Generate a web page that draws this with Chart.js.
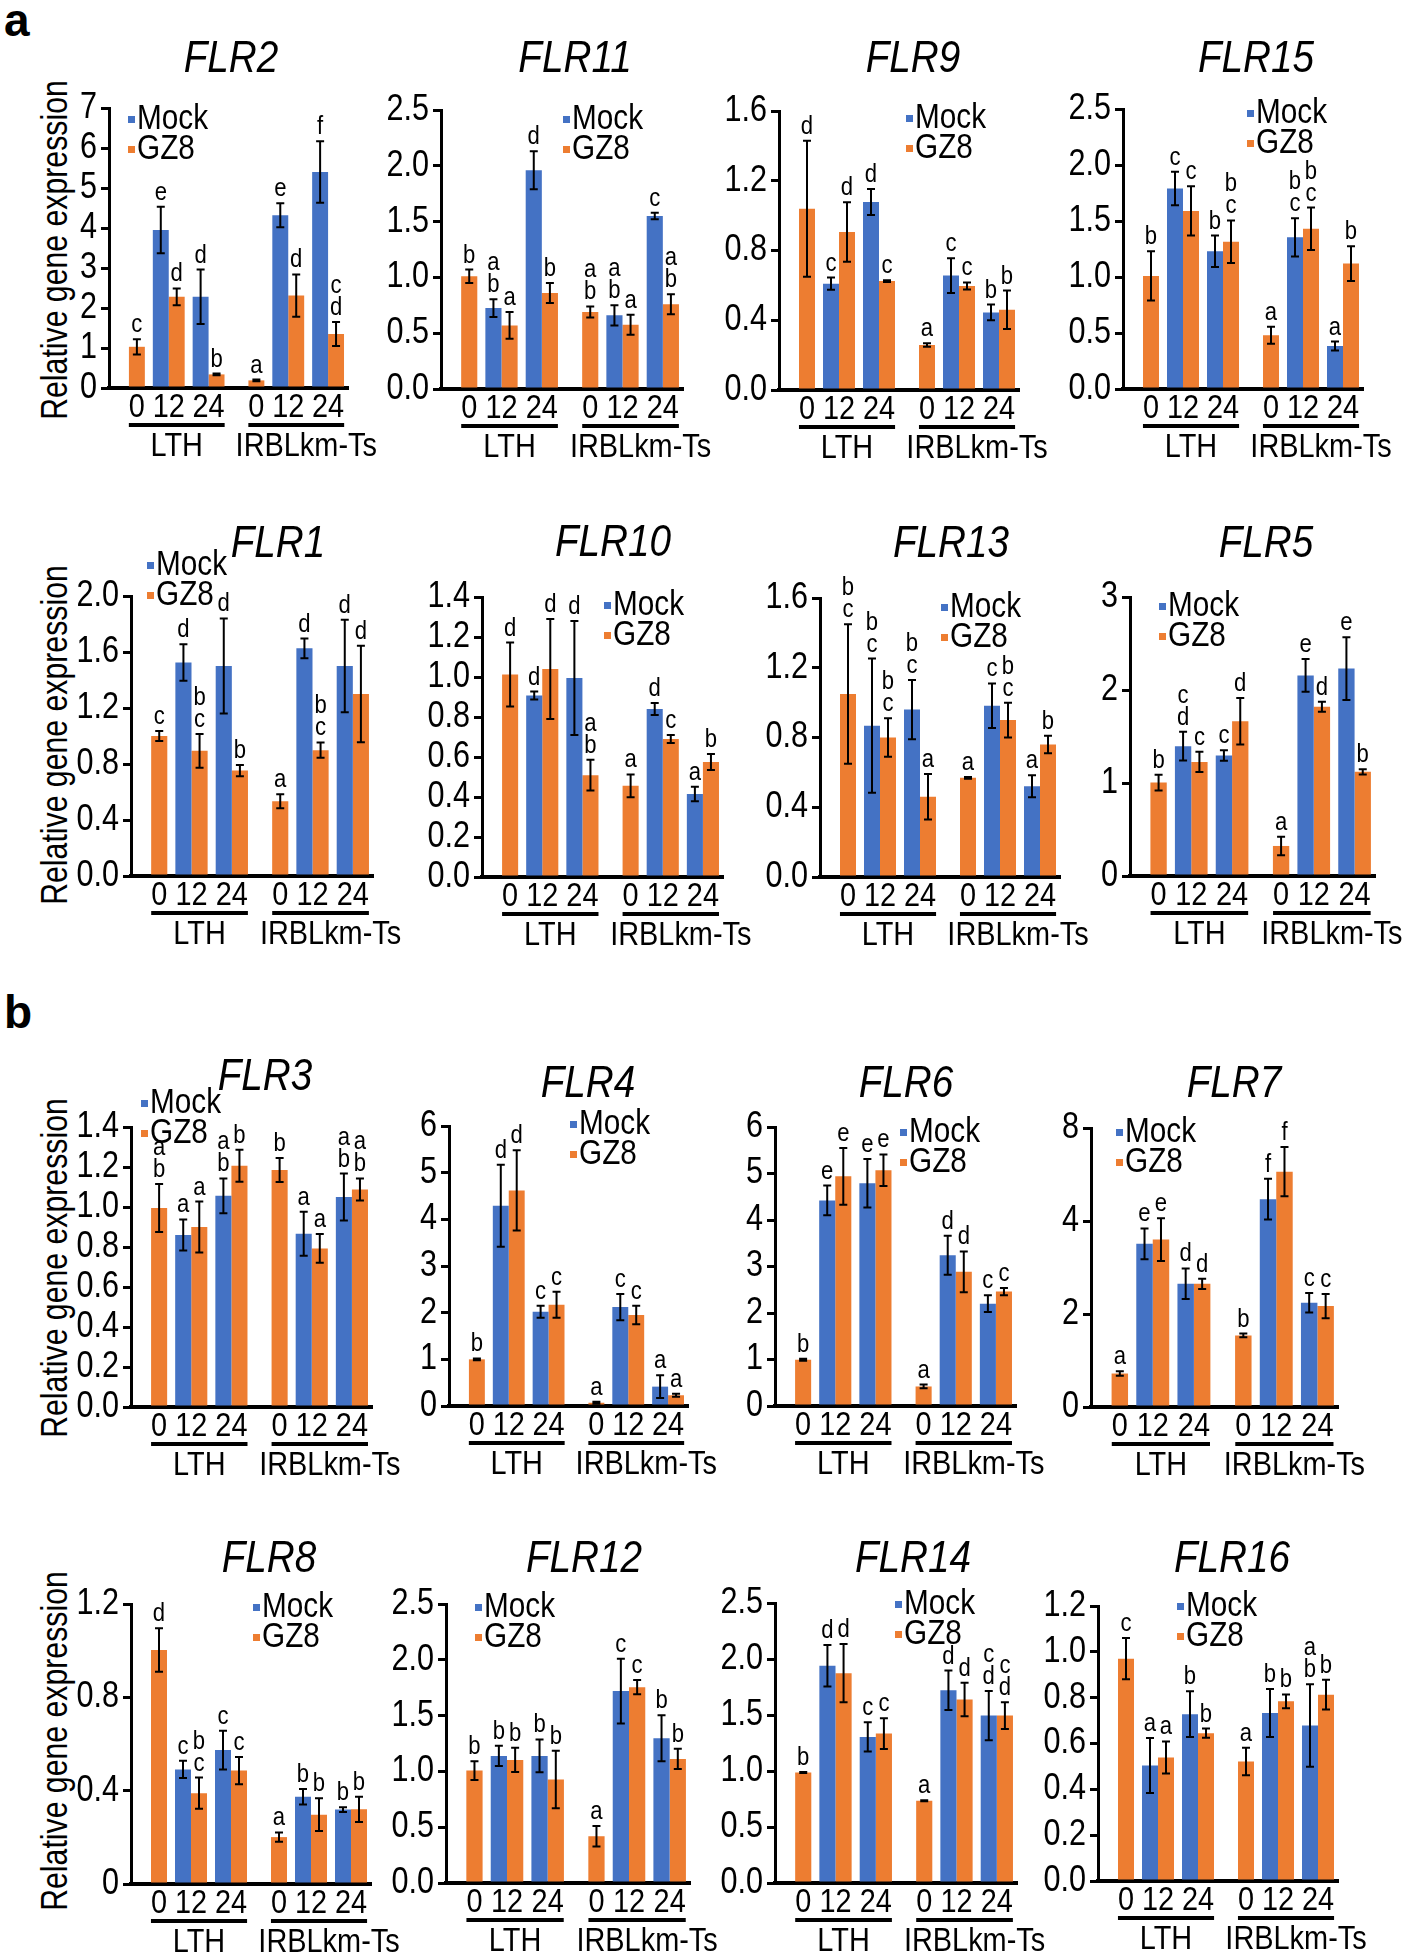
<!DOCTYPE html>
<html>
<head>
<meta charset="utf-8">
<script src="https://cdn.jsdelivr.net/npm/chart.js@4.4.1/dist/chart.umd.min.js"></script>
<style>
  body { margin: 0; background: #fff; width: 1418px; height: 1958px; position: relative; overflow: hidden;
         font-family: 'Liberation Sans', Arial, sans-serif; color: #000; }
  canvas { position: absolute; }
  .ylab { position: absolute; font-size: 36px; white-space: nowrap; transform: translate(-50%, -50%) rotate(-90deg) scaleX(0.84); }
  .panel { position: absolute; font-weight: bold; font-size: 46px; line-height: 46px; }
</style>
</head>
<body>
<div class="panel" style="left:4px; top:-3px">a</div>
<div class="panel" style="left:4px; top:989px">b</div>
<div class="ylab" style="left:55px; top:250px">Relative gene expression</div>
<div class="ylab" style="left:55px; top:735px">Relative gene expression</div>
<div class="ylab" style="left:55px; top:1268px">Relative gene expression</div>
<div class="ylab" style="left:55px; top:1741px">Relative gene expression</div>
<script>
const timePoints = ['0', '12', '24', '0', '12', '24'];
const lines = ['LTH', 'IRBLkm-Ts'];
const seriesNames = ['Mock', 'GZ8'];

// FLR2
const flr2Mock = [null, 3.95, 2.28, null, 4.32, 5.40];
const flr2MockErr = [null, 0.58, 0.68, null, 0.30, 0.77];
const flr2MockSig = ['', 'e', 'd', '', 'e', 'f'];
const flr2Gz8 = [1.03, 2.28, 0.34, 0.19, 2.31, 1.35];
const flr2Gz8Err = [0.19, 0.21, 0.02, 0.02, 0.53, 0.30];
const flr2Gz8Sig = ['c', 'd', 'b', 'a', 'd', 'cd'];
const flr2Ticks = ['0', '1', '2', '3', '4', '5', '6', '7'];

// FLR11
const flr11Mock = [null, 0.725, 1.96, null, 0.66, 1.55];
const flr11MockErr = [null, 0.08, 0.17, null, 0.09, 0.03];
const flr11MockSig = ['', 'ab', 'd', '', 'ab', 'c'];
const flr11Gz8 = [1.01, 0.57, 0.86, 0.69, 0.576, 0.76];
const flr11Gz8Err = [0.06, 0.12, 0.09, 0.05, 0.09, 0.09];
const flr11Gz8Sig = ['b', 'a', 'b', 'ab', 'a', 'ab'];
const flr11Ticks = ['0.0', '0.5', '1.0', '1.5', '2.0', '2.5'];

// FLR9
const flr9Mock = [null, 0.61, 1.078, null, 0.656, 0.445];
const flr9MockErr = [null, 0.035, 0.075, null, 0.10, 0.045];
const flr9MockSig = ['', 'c', 'd', '', 'c', 'b'];
const flr9Gz8 = [1.04, 0.906, 0.625, 0.258, 0.597, 0.46];
const flr9Gz8Err = [0.39, 0.17, 0.005, 0.01, 0.02, 0.11];
const flr9Gz8Sig = ['d', 'd', 'c', 'a', 'c', 'b'];
const flr9Ticks = ['0.0', '0.4', '0.8', '1.2', '1.6'];

// FLR15
const flr15Mock = [null, 1.79, 1.23, null, 1.354, 0.384];
const flr15MockErr = [null, 0.15, 0.14, null, 0.17, 0.04];
const flr15MockSig = ['', 'c', 'b', '', 'bc', 'a'];
const flr15Gz8 = [1.01, 1.59, 1.315, 0.48, 1.43, 1.12];
const flr15Gz8Err = [0.22, 0.22, 0.19, 0.075, 0.19, 0.155];
const flr15Gz8Sig = ['b', 'c', 'bc', 'a', 'bc', 'b'];
const flr15Ticks = ['0.0', '0.5', '1.0', '1.5', '2.0', '2.5'];

// FLR1
const flr1Mock = [null, 1.525, 1.50, null, 1.626, 1.50];
const flr1MockErr = [null, 0.13, 0.34, null, 0.07, 0.33];
const flr1MockSig = ['', 'd', 'd', '', 'd', 'd'];
const flr1Gz8 = [1.0, 0.894, 0.753, 0.534, 0.899, 1.30];
const flr1Gz8Err = [0.035, 0.12, 0.04, 0.05, 0.055, 0.345];
const flr1Gz8Sig = ['c', 'bc', 'b', 'a', 'bc', 'd'];
const flr1Ticks = ['0.0', '0.4', '0.8', '1.2', '1.6', '2.0'];

// FLR10
const flr10Mock = [null, 0.907, 0.995, null, 0.84, 0.415];
const flr10MockErr = [null, 0.02, 0.285, null, 0.03, 0.036];
const flr10MockSig = ['', 'd', 'd', '', 'd', 'a'];
const flr10Gz8 = [1.012, 1.04, 0.509, 0.456, 0.69, 0.575];
const flr10Gz8Err = [0.16, 0.25, 0.077, 0.057, 0.02, 0.04];
const flr10Gz8Sig = ['d', 'd', 'ab', 'a', 'c', 'b'];
const flr10Ticks = ['0.0', '0.2', '0.4', '0.6', '0.8', '1.0', '1.2', '1.4'];

// FLR13
const flr13Mock = [null, 0.868, 0.96, null, 0.982, 0.52];
const flr13MockErr = [null, 0.385, 0.17, null, 0.128, 0.063];
const flr13MockSig = ['', 'bc', 'bc', '', 'c', 'a'];
const flr13Gz8 = [1.049, 0.80, 0.46, 0.569, 0.90, 0.76];
const flr13Gz8Err = [0.40, 0.11, 0.13, 0.005, 0.10, 0.05];
const flr13Gz8Sig = ['bc', 'bc', 'a', 'a', 'bc', 'b'];
const flr13Ticks = ['0.0', '0.4', '0.8', '1.2', '1.6'];

// FLR5
const flr5Mock = [null, 1.396, 1.296, null, 2.156, 2.23];
const flr5MockErr = [null, 0.154, 0.057, null, 0.176, 0.337];
const flr5MockSig = ['', 'cd', 'c', '', 'e', 'e'];
const flr5Gz8 = [1.005, 1.227, 1.665, 0.323, 1.82, 1.12];
const flr5Gz8Err = [0.085, 0.11, 0.25, 0.10, 0.054, 0.028];
const flr5Gz8Sig = ['b', 'c', 'd', 'a', 'd', 'b'];
const flr5Ticks = ['0', '1', '2', '3'];

// FLR3
const flr3Mock = [null, 0.86, 1.056, null, 0.866, 1.05];
const flr3MockErr = [null, 0.078, 0.087, null, 0.11, 0.117];
const flr3MockSig = ['', 'a', 'ab', '', 'a', 'ab'];
const flr3Gz8 = [0.995, 0.90, 1.206, 1.185, 0.793, 1.088];
const flr3Gz8Err = [0.12, 0.127, 0.08, 0.06, 0.072, 0.055];
const flr3Gz8Sig = ['ab', 'a', 'b', 'b', 'a', 'ab'];
const flr3Ticks = ['0.0', '0.2', '0.4', '0.6', '0.8', '1.0', '1.2', '1.4'];

// FLR4
const flr4Mock = [null, 4.29, 2.02, null, 2.12, 0.415];
const flr4MockErr = [null, 0.88, 0.13, null, 0.28, 0.245];
const flr4MockSig = ['', 'd', 'c', '', 'c', 'a'];
const flr4Gz8 = [1.0, 4.62, 2.17, 0.07, 1.95, 0.23];
const flr4Gz8Err = [0.02, 0.86, 0.28, 0.02, 0.20, 0.03];
const flr4Gz8Sig = ['b', 'd', 'c', 'a', 'c', 'a'];
const flr4Ticks = ['0', '1', '2', '3', '4', '5', '6'];

// FLR6
const flr6Mock = [null, 4.42, 4.79, null, 3.24, 2.20];
const flr6MockErr = [null, 0.32, 0.52, null, 0.42, 0.18];
const flr6MockSig = ['', 'e', 'e', '', 'd', 'c'];
const flr6Gz8 = [0.995, 4.94, 5.07, 0.42, 2.885, 2.46];
const flr6Gz8Err = [0.02, 0.61, 0.34, 0.04, 0.44, 0.08];
const flr6Gz8Sig = ['b', 'e', 'e', 'a', 'd', 'c'];
const flr6Ticks = ['0', '1', '2', '3', '4', '5', '6'];

// FLR7 (top tick is printed as 8 in the figure)
const flr7Mock = [null, 3.51, 2.65, null, 4.47, 2.24];
const flr7MockErr = [null, 0.33, 0.33, null, 0.44, 0.21];
const flr7MockSig = ['', 'e', 'd', '', 'f', 'c'];
const flr7Gz8 = [0.72, 3.60, 2.65, 1.54, 5.06, 2.17];
const flr7Gz8Err = [0.05, 0.46, 0.11, 0.04, 0.53, 0.26];
const flr7Gz8Sig = ['a', 'e', 'd', 'b', 'f', 'c'];
const flr7Ticks = ['0', '2', '4', '8'];

// FLR8
const flr8Mock = [null, 0.491, 0.574, null, 0.374, 0.319];
const flr8MockErr = [null, 0.037, 0.083, null, 0.033, 0.01];
const flr8MockSig = ['', 'c', 'c', '', 'b', 'b'];
const flr8Gz8 = [1.003, 0.389, 0.486, 0.201, 0.297, 0.32];
const flr8Gz8Err = [0.093, 0.067, 0.058, 0.02, 0.07, 0.054];
const flr8Gz8Sig = ['d', 'bc', 'c', 'a', 'b', 'b'];
const flr8Ticks = ['0', '0.4', '0.8', '1.2'];

// FLR12
const flr12Mock = [null, 1.139, 1.139, null, 1.72, 1.298];
const flr12MockErr = [null, 0.09, 0.147, null, 0.29, 0.206];
const flr12MockSig = ['', 'b', 'b', '', 'c', 'b'];
const flr12Gz8 = [1.008, 1.103, 0.927, 0.419, 1.755, 1.112];
const flr12Gz8Err = [0.084, 0.108, 0.257, 0.092, 0.063, 0.09];
const flr12Gz8Sig = ['b', 'b', 'b', 'a', 'c', 'b'];
const flr12Ticks = ['0.0', '0.5', '1.0', '1.5', '2.0', '2.5'];

// FLR14
const flr14Mock = [null, 1.939, 1.304, null, 1.721, 1.495];
const flr14MockErr = [null, 0.185, 0.131, null, 0.176, 0.22];
const flr14MockSig = ['', 'd', 'c', '', 'd', 'cd'];
const flr14Gz8 = [0.987, 1.873, 1.334, 0.734, 1.638, 1.495];
const flr14Gz8Err = [0.005, 0.26, 0.137, 0.005, 0.149, 0.119];
const flr14Gz8Sig = ['b', 'd', 'c', 'a', 'd', 'cd'];
const flr14Ticks = ['0.0', '0.5', '1.0', '1.5', '2.0', '2.5'];

// FLR16
const flr16Mock = [null, 0.504, 0.728, null, 0.733, 0.679];
const flr16MockErr = [null, 0.12, 0.10, null, 0.105, 0.18];
const flr16MockSig = ['', 'a', 'b', '', 'b', 'ab'];
const flr16Gz8 = [0.97, 0.539, 0.645, 0.521, 0.784, 0.813];
const flr16Gz8Err = [0.09, 0.07, 0.02, 0.06, 0.03, 0.065];
const flr16Gz8Sig = ['c', 'a', 'b', 'a', 'b', 'b'];
const flr16Ticks = ['0.0', '0.2', '0.4', '0.6', '0.8', '1.0', '1.2'];

const FONT = "'Liberation Sans', Arial, sans-serif";
const BLUE = '#4472C4';
const ORANGE = '#ED7D31';
const SX = 0.85; // the figure's type is horizontally condensed

// plot box (x0..x1, y0..y1), title centre, legend anchor
const panels = [
  { title: 'FLR2', mock: flr2Mock, mockErr: flr2MockErr, mockSig: flr2MockSig, gz8: flr2Gz8, gz8Err: flr2Gz8Err, gz8Sig: flr2Gz8Sig, ticks: flr2Ticks, step: 1,
    x0: 109, x1: 348, y0: 108, y1: 388, tx: 231, ty: 60, lx: 128, ly: 119 },
  { title: 'FLR11', mock: flr11Mock, mockErr: flr11MockErr, mockSig: flr11MockSig, gz8: flr11Gz8, gz8Err: flr11Gz8Err, gz8Sig: flr11Gz8Sig, ticks: flr11Ticks, step: 0.5,
    x0: 441, x1: 683, y0: 110, y1: 389, tx: 575, ty: 60, lx: 563, ly: 119 },
  { title: 'FLR9', mock: flr9Mock, mockErr: flr9MockErr, mockSig: flr9MockSig, gz8: flr9Gz8, gz8Err: flr9Gz8Err, gz8Sig: flr9Gz8Sig, ticks: flr9Ticks, step: 0.4,
    x0: 779, x1: 1019, y0: 111, y1: 390, tx: 913, ty: 60, lx: 906, ly: 118 },
  { title: 'FLR15', mock: flr15Mock, mockErr: flr15MockErr, mockSig: flr15MockSig, gz8: flr15Gz8, gz8Err: flr15Gz8Err, gz8Sig: flr15Gz8Sig, ticks: flr15Ticks, step: 0.5,
    x0: 1123, x1: 1363, y0: 109, y1: 389, tx: 1256, ty: 60, lx: 1247, ly: 113 },

  { title: 'FLR1', mock: flr1Mock, mockErr: flr1MockErr, mockSig: flr1MockSig, gz8: flr1Gz8, gz8Err: flr1Gz8Err, gz8Sig: flr1Gz8Sig, ticks: flr1Ticks, step: 0.4,
    x0: 131, x1: 373, y0: 596, y1: 876, tx: 278, ty: 545, lx: 147, ly: 565 },
  { title: 'FLR10', mock: flr10Mock, mockErr: flr10MockErr, mockSig: flr10MockSig, gz8: flr10Gz8, gz8Err: flr10Gz8Err, gz8Sig: flr10Gz8Sig, ticks: flr10Ticks, step: 0.2,
    x0: 482, x1: 723, y0: 597, y1: 877, tx: 613, ty: 544, lx: 604, ly: 605 },
  { title: 'FLR13', mock: flr13Mock, mockErr: flr13MockErr, mockSig: flr13MockSig, gz8: flr13Gz8, gz8Err: flr13Gz8Err, gz8Sig: flr13Gz8Sig, ticks: flr13Ticks, step: 0.4,
    x0: 820, x1: 1060, y0: 598, y1: 877, tx: 951, ty: 545, lx: 941, ly: 607 },
  { title: 'FLR5', mock: flr5Mock, mockErr: flr5MockErr, mockSig: flr5MockSig, gz8: flr5Gz8, gz8Err: flr5Gz8Err, gz8Sig: flr5Gz8Sig, ticks: flr5Ticks, step: 1,
    x0: 1130, x1: 1375, y0: 597, y1: 876, tx: 1266, ty: 545, lx: 1159, ly: 606 },

  { title: 'FLR3', mock: flr3Mock, mockErr: flr3MockErr, mockSig: flr3MockSig, gz8: flr3Gz8, gz8Err: flr3Gz8Err, gz8Sig: flr3Gz8Sig, ticks: flr3Ticks, step: 0.2,
    x0: 131, x1: 372, y0: 1127, y1: 1407, tx: 265, ty: 1078, lx: 141, ly: 1103 },
  { title: 'FLR4', mock: flr4Mock, mockErr: flr4MockErr, mockSig: flr4MockSig, gz8: flr4Gz8, gz8Err: flr4Gz8Err, gz8Sig: flr4Gz8Sig, ticks: flr4Ticks, step: 1,
    x0: 449, x1: 688, y0: 1126, y1: 1406, tx: 588, ty: 1085, lx: 570, ly: 1124 },
  { title: 'FLR6', mock: flr6Mock, mockErr: flr6MockErr, mockSig: flr6MockSig, gz8: flr6Gz8, gz8Err: flr6Gz8Err, gz8Sig: flr6Gz8Sig, ticks: flr6Ticks, step: 1,
    x0: 775, x1: 1016, y0: 1127, y1: 1406, tx: 906, ty: 1085, lx: 900, ly: 1132 },
  { title: 'FLR7', mock: flr7Mock, mockErr: flr7MockErr, mockSig: flr7MockSig, gz8: flr7Gz8, gz8Err: flr7Gz8Err, gz8Sig: flr7Gz8Sig, ticks: flr7Ticks, step: 2,
    x0: 1091, x1: 1338, y0: 1128, y1: 1407, tx: 1234, ty: 1085, lx: 1116, ly: 1132 },

  { title: 'FLR8', mock: flr8Mock, mockErr: flr8MockErr, mockSig: flr8MockSig, gz8: flr8Gz8, gz8Err: flr8Gz8Err, gz8Sig: flr8Gz8Sig, ticks: flr8Ticks, step: 0.4,
    x0: 131, x1: 371, y0: 1604, y1: 1884, tx: 269, ty: 1560, lx: 253, ly: 1607 },
  { title: 'FLR12', mock: flr12Mock, mockErr: flr12MockErr, mockSig: flr12MockSig, gz8: flr12Gz8, gz8Err: flr12Gz8Err, gz8Sig: flr12Gz8Sig, ticks: flr12Ticks, step: 0.5,
    x0: 446, x1: 690, y0: 1604, y1: 1883, tx: 584, ty: 1560, lx: 475, ly: 1607 },
  { title: 'FLR14', mock: flr14Mock, mockErr: flr14MockErr, mockSig: flr14MockSig, gz8: flr14Gz8, gz8Err: flr14Gz8Err, gz8Sig: flr14Gz8Sig, ticks: flr14Ticks, step: 0.5,
    x0: 775, x1: 1017, y0: 1603, y1: 1883, tx: 913, ty: 1560, lx: 895, ly: 1604 },
  { title: 'FLR16', mock: flr16Mock, mockErr: flr16MockErr, mockSig: flr16MockSig, gz8: flr16Gz8, gz8Err: flr16Gz8Err, gz8Sig: flr16Gz8Sig, ticks: flr16Ticks, step: 0.2,
    x0: 1098, x1: 1338, y0: 1606, y1: 1881, tx: 1232, ty: 1560, lx: 1177, ly: 1606 }
];

const PAD_L = 95, PAD_T = 100, PAD_R = 50, PAD_B = 75;

// condensed text: draw at (x, y) squeezed horizontally by sx
function text(ctx, s, x, y, font, align, sx) {
  ctx.save();
  ctx.translate(x, y);
  ctx.scale(sx, 1);
  ctx.font = font;
  ctx.textAlign = align;
  ctx.fillText(s, 0, 0);
  ctx.restore();
}

function textWidth(ctx, s, font, sx) {
  ctx.save();
  ctx.font = font;
  const w = ctx.measureText(s).width * sx;
  ctx.restore();
  return w;
}

// tick labels, error bars, significance letters, x labels, strain labels, title, legend
function annotate(p, left, top) {
  return {
    id: 'annot',
    afterDraw(chart) {
      const ctx = chart.ctx;
      const ys = chart.scales.y, xs = chart.scales.x;
      const area = chart.chartArea;
      const metas = [chart.getDatasetMeta(0), chart.getDatasetMeta(1)];
      const vals = [p.mock, p.gz8], errs = [p.mockErr, p.gz8Err], sigs = [p.mockSig, p.gz8Sig];
      ctx.save();
      ctx.strokeStyle = '#000';
      ctx.fillStyle = '#000';
      ctx.textBaseline = 'middle';

      const tickFont = '36px ' + FONT;
      ys.ticks.forEach((t, i) => {
        text(ctx, p.ticks[i], area.left - 12, ys.getPixelForValue(t.value), tickFont, 'right', SX);
      });

      ctx.textBaseline = 'alphabetic';
      for (let d = 0; d < 2; d++) {
        metas[d].data.forEach((bar, i) => {
          const v = vals[d][i];
          if (v == null) return;
          const e = errs[d][i];
          const yTop = ys.getPixelForValue(v + e);
          const yBot = ys.getPixelForValue(Math.max(v - e, 0));
          ctx.lineWidth = 2;
          ctx.beginPath();
          ctx.moveTo(bar.x, yTop); ctx.lineTo(bar.x, yBot);
          ctx.moveTo(bar.x - 4, yTop); ctx.lineTo(bar.x + 4, yTop);
          ctx.moveTo(bar.x - 4, yBot); ctx.lineTo(bar.x + 4, yBot);
          ctx.stroke();
          const s = sigs[d][i];
          for (let k = 0; k < s.length; k++) {
            text(ctx, s[k], bar.x, yTop - 7 - (s.length - 1 - k) * 22, '26px ' + FONT, 'center', SX);
          }
        });
      }

      const zero = ys.getPixelForValue(0);
      const xFont = '34px ' + FONT;
      ctx.textBaseline = 'middle';
      const lx = timePoints.map((t, i) => (p.mock[i] == null ? metas[1].data[i].x : xs.getPixelForValue(i)));
      timePoints.forEach((t, i) => text(ctx, t, lx[i], zero + 20, xFont, 'center', SX));

      lines.forEach((name, g) => {
        const a = g * 3, b = g * 3 + 2;
        const x0 = lx[a] - textWidth(ctx, timePoints[a], xFont, SX) / 2;
        const x1 = lx[b] + textWidth(ctx, timePoints[b], xFont, SX) / 2;
        ctx.lineWidth = 4;
        ctx.beginPath();
        ctx.moveTo(x0, zero + 37); ctx.lineTo(x1, zero + 37);
        ctx.stroke();
        text(ctx, name, (x0 + x1) / 2 + (g ? 10 : 0), zero + 59, '34px ' + FONT, 'center', SX);
      });

      text(ctx, p.title, p.tx - left, p.ty - top, 'italic 44px ' + FONT, 'center', 0.88);

      [BLUE, ORANGE].forEach((c, k) => {
        const y = p.ly - top + k * 30;
        ctx.fillStyle = c;
        ctx.fillRect(p.lx - left, y - 3, 7, 7);
        ctx.fillStyle = '#000';
        text(ctx, seriesNames[k], p.lx - left + 9, y, '35px ' + FONT, 'left', SX);
      });
      ctx.restore();
    }
  };
}

function makeChart(p) {
  const plotW = p.x1 - p.x0, plotH = p.y1 - p.y0;
  const left = p.x0 - PAD_L, top = p.y0 - PAD_T;
  const cv = document.createElement('canvas');
  cv.width = plotW + PAD_L + PAD_R;
  cv.height = plotH + PAD_T + PAD_B;
  cv.style.left = left + 'px';
  cv.style.top = top + 'px';
  document.body.appendChild(cv);
  const yMax = Math.round(p.step * (p.ticks.length - 1) * 1000) / 1000;

  new Chart(cv, {
    type: 'bar',
    data: {
      labels: timePoints,
      datasets: [
        { label: seriesNames[0], data: p.mock, backgroundColor: BLUE },
        { label: seriesNames[1], data: p.gz8, backgroundColor: ORANGE }
      ]
    },
    options: {
      responsive: false,
      animation: false,
      devicePixelRatio: 1,
      layout: { padding: { top: PAD_T, right: PAD_R, left: 0, bottom: 0 } },
      datasets: { bar: { barPercentage: 1, categoryPercentage: 0.8 } },
      plugins: { legend: { display: false }, tooltip: { enabled: false } },
      scales: {
        x: {
          grid: { display: false },
          border: { display: true, width: 4, color: '#000' },
          ticks: { display: false },
          afterFit: s => { s.height = PAD_B; }
        },
        y: {
          min: 0,
          max: yMax,
          grid: { display: true, drawOnChartArea: false, drawTicks: true, tickLength: 8, color: '#000', lineWidth: 3 },
          border: { display: true, width: 3, color: '#000' },
          ticks: { stepSize: p.step, autoSkip: false, display: false },
          afterFit: s => { s.width = PAD_L; }
        }
      }
    },
    plugins: [annotate(p, left, top)]
  });
}

panels.forEach(makeChart);
</script>
</body>
</html>
